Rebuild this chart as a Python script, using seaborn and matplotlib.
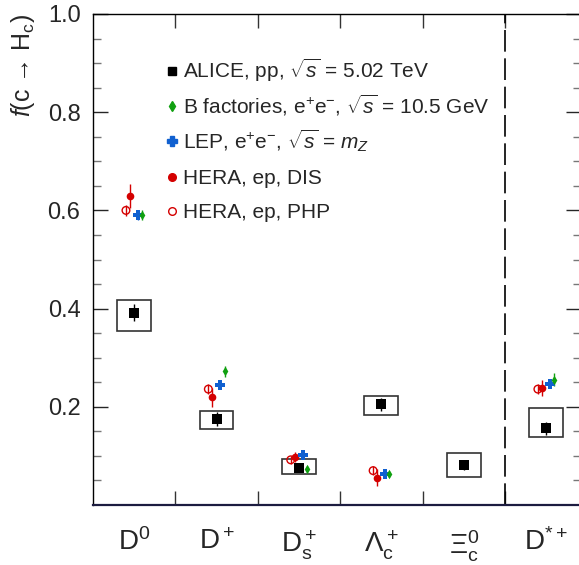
import numpy as np
import pandas as pd
import matplotlib
matplotlib.use("Agg")
import matplotlib.pyplot as plt
from matplotlib.patches import Rectangle
from matplotlib.lines import Line2D
import seaborn as sns

# hadron species on the x axis
hadrons = ['$\\mathrm{D^0}$', '$\\mathrm{D^+}$', '$\\mathrm{D_s^+}$',
           '$\\mathrm{\\Lambda_c^+}$', '$\\mathrm{\\Xi_c^0}$', '$\\mathrm{D^{*+}}$']

# ALICE pp 5.02 TeV (value, stat error, syst box low / high)
alice_val = [0.392, 0.175, 0.076, 0.205, 0.081, 0.156]
alice_stat = [0.017, 0.014, 0.006, 0.013, 0.010, 0.013]
alice_syst_lo = [0.354, 0.154, 0.064, 0.184, 0.058, 0.138]
alice_syst_hi = [0.417, 0.192, 0.093, 0.222, 0.106, 0.198]

# other measurements (no Xi_c0)
other_idx = [0, 1, 2, 3, 5]
bfac_val = [0.591, 0.272, 0.073, 0.064, 0.255]
bfac_err = [0.010, 0.011, 0.006, 0.006, 0.013]
lep_val = [0.591, 0.245, 0.101, 0.063, 0.247]
lep_err = [0.010, 0.007, 0.005, 0.006, 0.007]
dis_val = [0.629, 0.219, 0.097, 0.056, 0.238]
dis_err = [0.025, 0.020, 0.010, 0.017, 0.017]
php_val = [0.600, 0.236, 0.092, 0.070, 0.236]
php_err = [0.012, 0.010, 0.008, 0.009, 0.010]

sns.set_style("ticks")
plt.rcParams['font.family'] = ['Liberation Sans', 'DejaVu Sans']
plt.rcParams['mathtext.fontset'] = 'custom'
plt.rcParams['mathtext.rm'] = 'Liberation Sans'
plt.rcParams['mathtext.it'] = 'Liberation Sans:italic'
plt.rcParams['mathtext.bf'] = 'Liberation Sans:bold'
plt.rcParams['xtick.direction'] = 'in'
plt.rcParams['ytick.direction'] = 'in'

fig = plt.figure(figsize=(5.79, 5.65), dpi=100)
ax = fig.add_axes([93 / 579, 1 - 505 / 565, 1.003 - 93 / 579, (505 - 14) / 565])

# ALICE systematic boxes
for i in range(len(hadrons)):
    ax.add_patch(Rectangle((i - 0.205, alice_syst_lo[i]), 0.41,
                           alice_syst_hi[i] - alice_syst_lo[i],
                           fill=False, edgecolor='#333333', linewidth=1.2, zorder=2))

series = [
    ('HERA, ep, PHP', php_val, php_err, -0.10, 'o', '#d40000', 'none', 5.5),
    ('HERA, ep, DIS', dis_val, dis_err, -0.052, 'o', '#d40000', '#d40000', 5.5),
    ('LEP, e$^{+}$e$^{-}$, $\\sqrt{s}$ = $m_{Z}$', lep_val, lep_err, 0.045, 'P', '#1060d0', '#1060d0', 6.5),
    ('B factories, e$^{+}$e$^{-}$, $\\sqrt{s}$ = 10.5 GeV', bfac_val, bfac_err, 0.097, 'd', '#10a010', '#10a010', 4.8),
]

x_other = np.array(other_idx, dtype=float)
for name, val, err, off, mk, col, fc, ms in series:
    df = pd.DataFrame({'x': x_other + off, 'y': val})
    ax.errorbar(df['x'], df['y'], yerr=err, fmt='none', ecolor=col, elinewidth=1.0, zorder=3)
    sns.scatterplot(data=df, x='x', y='y', ax=ax, marker=mk, s=ms ** 2,
                    color=col, facecolor=fc, edgecolor=col,
                    linewidth=1.0 if fc == 'none' else 0, zorder=4)

df_alice = pd.DataFrame({'x': np.arange(len(hadrons)), 'y': alice_val})
ax.errorbar(df_alice['x'], df_alice['y'], yerr=alice_stat, fmt='none',
            ecolor='black', elinewidth=1.0, zorder=3)
sns.scatterplot(data=df_alice, x='x', y='y', ax=ax, marker='s', s=7 ** 2,
                color='black', linewidth=0, zorder=5)

# separator before D*+
ax.axvline(4.5, color='black', linewidth=1.2, dashes=(13, 4))

ax.set_xlim(-0.5, 5.42)
ax.set_ylim(0, 1.0)

ax.set_xticks(range(len(hadrons)))
ax.set_xticklabels(hadrons, fontsize=20)
ax.set_xticks(np.arange(0.5, 5, 1.0), minor=True)
ax.tick_params(axis='x', which='major', length=0, pad=17)
ax.tick_params(axis='x', which='minor', direction='in', length=10, width=1,
               top=True, bottom=True, color='#333333')

ax.set_yticks([0.2, 0.4, 0.6, 0.8, 1.0])
ax.set_yticklabels(['0.2', '0.4', '0.6', '0.8', '1.0'], fontsize=17)
ax.set_yticks(np.arange(0.05, 1.0, 0.05), minor=True)
ax.tick_params(axis='y', which='major', direction='in', length=11, width=1,
               left=True, right=True, pad=9)
ax.tick_params(axis='y', which='minor', direction='in', length=5.5, width=1,
               left=True, right=True, color='#777777')

ax.set_xlabel('')
ax.set_ylabel('$f$(c → H$_{\\mathrm{c}}$)', fontsize=18, loc='top', labelpad=8)

for s in ['left', 'top', 'right']:
    ax.spines[s].set_color('black')
    ax.spines[s].set_linewidth(1.0)
ax.spines['bottom'].set_color('#1c1c40')
ax.spines['bottom'].set_linewidth(1.6)

handles = [
    Line2D([], [], linestyle='none', marker='s', color='black', markersize=6),
    Line2D([], [], linestyle='none', marker='d', color='#10a010', markersize=5),
    Line2D([], [], linestyle='none', marker='P', color='#1060d0', markersize=6.5),
    Line2D([], [], linestyle='none', marker='o', color='#d40000', markersize=5.5),
    Line2D([], [], linestyle='none', marker='o', color='#d40000', markerfacecolor='none', markersize=5.5),
]
labels = [
    'ALICE, pp, $\\sqrt{s}$ = 5.02 TeV',
    series[3][0],
    series[2][0],
    series[1][0],
    series[0][0],
]
leg_kw = dict(loc='upper left', bbox_transform=fig.transFigure, frameon=False, fontsize=15,
              handlelength=0.6, handletextpad=0.2, borderaxespad=0, borderpad=0)
leg1 = ax.legend(handles[:3], labels[:3], bbox_to_anchor=(166 / 579, 1 - 57 / 565),
                 labelspacing=0.42, **leg_kw)
ax.add_artist(leg1)
ax.legend(handles[3:], labels[3:], bbox_to_anchor=(166 / 579, 1 - 169 / 565),
          labelspacing=0.72, **leg_kw)

fig.savefig('out.png', dpi=100)
